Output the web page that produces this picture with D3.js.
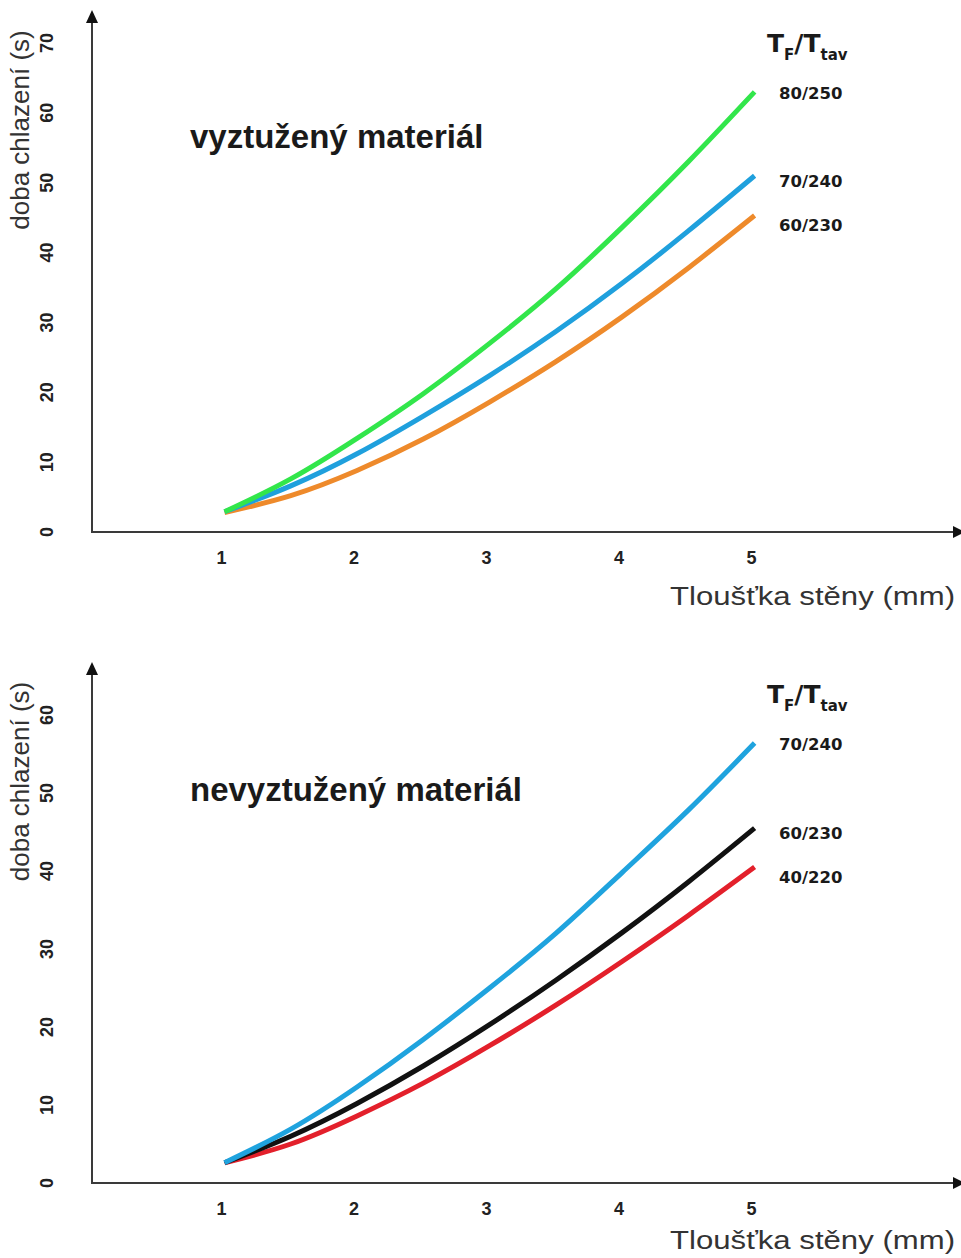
<!DOCTYPE html>
<html>
<head>
<meta charset="utf-8">
<script src="https://cdn.jsdelivr.net/npm/d3@7"></script>
<style>
  body { margin: 0; background: #fff; }
  .tick-y, .tick-x { font-family: "Liberation Sans", Arial, sans-serif; font-weight: bold; font-size: 18px; fill: #222; }
  .axis-title { font-family: "Liberation Sans", Arial, sans-serif; font-size: 26px; fill: #333; }
  .panel-title { font-family: "Liberation Sans", Arial, sans-serif; font-weight: bold; font-size: 33px; fill: #1a1a1a; }
  .legend-head { font-family: "DejaVu Sans", Verdana, sans-serif; font-weight: bold; font-size: 25px; fill: #1a1a1a; }
  .legend-label { font-family: "DejaVu Sans", Verdana, sans-serif; font-weight: bold; font-size: 16.5px; fill: #1a1a1a; }
</style>
</head>
<body>
<div id="chart"></div>
<script>
// tloušťka stěny (mm)
let thickness = [1, 1.5, 2, 2.5, 3, 3.5, 4, 4.5, 5];
let xTicks = [1, 2, 3, 4, 5];

// vyztužený materiál
let topTicks = [0, 10, 20, 30, 40, 50, 60, 70];
let topLabels = ["80/250", "70/240", "60/230"];
let top80 = [2.9, 7.6, 13.4, 19.8, 27.0, 34.8, 43.6, 53.0, 63.0];
let top70 = [2.9, 6.6, 11.2, 16.6, 22.4, 28.7, 35.6, 43.1, 51.0];
let top60 = [2.8, 5.2, 8.8, 13.3, 18.6, 24.4, 30.8, 37.8, 45.3];

// nevyztužený materiál
let bottomTicks = [0, 10, 20, 30, 40, 50, 60];
let bottomLabels = ["70/240", "60/230", "40/220"];
let bot70 = [2.6, 6.9, 12.3, 18.4, 25.0, 32.0, 39.8, 47.8, 56.4];
let bot60 = [2.6, 6.0, 10.2, 15.0, 20.3, 26.0, 32.1, 38.6, 45.5];
let bot40 = [2.6, 5.0, 8.6, 12.8, 17.6, 22.8, 28.4, 34.3, 40.5];

const WIDTH = 961;
const HEIGHT = 1258;
const AXIS_COLOR = "#3a3a3a";

window.onload = function() {
  let svg = d3.select("#chart")
    .append("svg")
    .attr("width", WIDTH)
    .attr("height", HEIGHT);

  let x = d3.scaleLinear().domain([0, 6.55]).range([92, 960]);

  drawPanel(svg, x, {
    title: "vyztužený materiál",
    titleY: 148,
    yDomain: [0, 70], base: 532, top: 43, arrowTip: 10,
    ticks: topTicks,
    series: [top80, top70, top60],
    labels: topLabels,
    colors: ["#32E64B", "#1FA0DD", "#EE8A2B"],
    headY: 52,
    xTitleY: 605
  });

  drawPanel(svg, x, {
    title: "nevyztužený materiál",
    titleY: 801,
    yDomain: [0, 60], base: 1183, top: 715, arrowTip: 662,
    ticks: bottomTicks,
    series: [bot70, bot60, bot40],
    labels: bottomLabels,
    colors: ["#1FA3DE", "#111111", "#E3202B"],
    headY: 703,
    xTitleY: 1249
  });
};

function drawPanel(svg, x, cfg) {
  let y = d3.scaleLinear().domain(cfg.yDomain).range([cfg.base, cfg.top]);
  let g = svg.append("g");

  // osy se šipkami
  g.append("line")
    .attr("x1", x(0)).attr("x2", x(0))
    .attr("y1", cfg.base).attr("y2", cfg.arrowTip + 10)
    .attr("stroke", AXIS_COLOR).attr("stroke-width", 2);
  g.append("path")
    .attr("d", "M" + x(0) + "," + cfg.arrowTip + " l-6,13 l12,0 z")
    .attr("fill", "#111");
  g.append("line")
    .attr("x1", x(0) - 1).attr("x2", WIDTH - 6)
    .attr("y1", cfg.base).attr("y2", cfg.base)
    .attr("stroke", AXIS_COLOR).attr("stroke-width", 2);
  g.append("path")
    .attr("d", "M" + (WIDTH + 4) + "," + cfg.base + " l-12,-6 l0,12 z")
    .attr("fill", "#111");

  // popisky os
  g.selectAll("text.tick-y")
    .data(cfg.ticks)
    .enter()
    .append("text")
    .attr("class", "tick-y")
    .attr("transform", function(d) {
      return "translate(47," + y(d) + ") rotate(-90)";
    })
    .attr("text-anchor", "middle")
    .attr("dy", "0.35em")
    .text(function(d) { return d; });

  g.selectAll("text.tick-x")
    .data(xTicks)
    .enter()
    .append("text")
    .attr("class", "tick-x")
    .attr("x", function(d) { return x(d) - 3; })
    .attr("y", cfg.base + 32)
    .attr("text-anchor", "middle")
    .text(function(d) { return d; });

  g.append("text")
    .attr("class", "axis-title")
    .attr("transform", "translate(29," + ((cfg.base + cfg.arrowTip) / 2 - 141) + ") rotate(-90)")
    .attr("text-anchor", "middle")
    .text("doba chlazení (s)");

  g.append("text")
    .attr("class", "axis-title")
    .attr("x", 955)
    .attr("y", cfg.xTitleY)
    .attr("text-anchor", "end")
    .attr("textLength", 285)
    .attr("lengthAdjust", "spacingAndGlyphs")
    .text("Tloušťka stěny (mm)");

  g.append("text")
    .attr("class", "panel-title")
    .attr("x", 190)
    .attr("y", cfg.titleY)
    .text(cfg.title);

  // křivky
  let line = d3.line()
    .x(function(d, i) { return x(thickness[i]); })
    .y(function(d) { return y(d); })
    .curve(d3.curveNatural);

  // kreslit od spodní, aby horní byla navrch
  cfg.series.slice().reverse().forEach(function(s, j) {
    let i = cfg.series.length - 1 - j;
    g.append("path")
      .attr("d", line(s))
      .attr("fill", "none")
      .attr("stroke", cfg.colors[i])
      .attr("stroke-width", 5);
  });

  // legenda
  let head = g.append("text")
    .attr("class", "legend-head")
    .attr("x", 767)
    .attr("y", cfg.headY);
  head.append("tspan").text("T");
  head.append("tspan").attr("font-size", 15).attr("dy", 8).text("F");
  head.append("tspan").attr("dy", -8).text("/T");
  head.append("tspan").attr("font-size", 15).attr("dy", 8).text("tav");

  let shift = [1, 5, 10];
  g.selectAll("text.legend-label")
    .data(cfg.series)
    .enter()
    .append("text")
    .attr("class", "legend-label")
    .attr("x", 779)
    .attr("y", function(d, i) { return y(d[d.length - 1]) + shift[i]; })
    .attr("dy", "0.35em")
    .text(function(d, i) { return cfg.labels[i]; });
}
</script>
</body>
</html>
